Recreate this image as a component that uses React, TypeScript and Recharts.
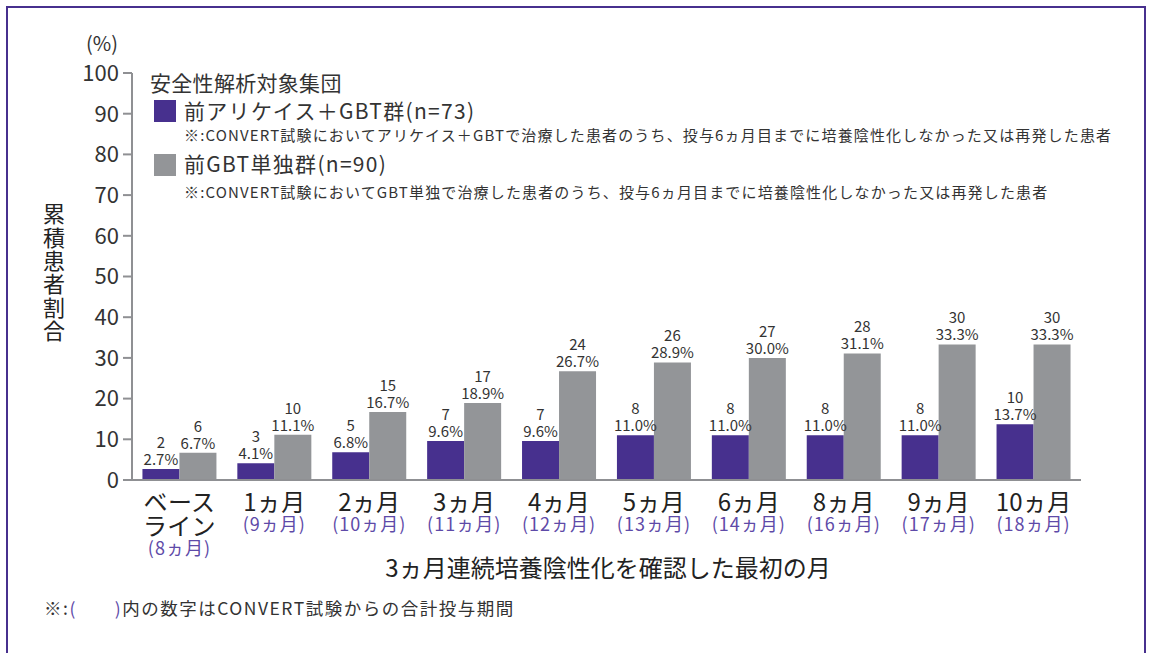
import React from 'react';
import { BarChart, Bar, XAxis, YAxis, LabelList } from 'recharts';

const categories = ['ベースライン', '1ヵ月', '2ヵ月', '3ヵ月', '4ヵ月', '5ヵ月', '6ヵ月', '8ヵ月', '9ヵ月', '10ヵ月'];
const subLabels = ['(8ヵ月)', '(9ヵ月)', '(10ヵ月)', '(11ヵ月)', '(12ヵ月)', '(13ヵ月)', '(14ヵ月)', '(16ヵ月)', '(17ヵ月)', '(18ヵ月)'];
const arikayceCount = [2, 3, 5, 7, 7, 8, 8, 8, 8, 10];
const arikaycePct = [2.7, 4.1, 6.8, 9.6, 9.6, 11.0, 11.0, 11.0, 11.0, 13.7];
const gbtCount = [6, 10, 15, 17, 24, 26, 27, 28, 30, 30];
const gbtPct = [6.7, 11.1, 16.7, 18.9, 26.7, 28.9, 30.0, 31.1, 33.3, 33.3];
const yTicks = [0, 10, 20, 30, 40, 50, 60, 70, 80, 90, 100];
const boundaryTicks = [0, 1, 2, 3, 4, 5, 6, 7, 8, 9, 10];

const seriesNames = ['前アリケイス＋GBT群(n=73)', '前GBT単独群(n=90)'];
const seriesNotes = [
  '※:CONVERT試験においてアリケイス＋GBTで治療した患者のうち、投与6ヵ月目までに培養陰性化しなかった又は再発した患者',
  '※:CONVERT試験においてGBT単独で治療した患者のうち、投与6ヵ月目までに培養陰性化しなかった又は再発した患者',
];
const legendTitle = '安全性解析対象集団';
const yTitle = '累積患者割合';
const xTitle = '3ヵ月連続培養陰性化を確認した最初の月';

const PURPLE = '#47308e';
const GRAY = '#939598';
const AXIS = '#8f9093';
const TEXT = '#333333';
const SUB = '#5e4aa8';
const FONT = '"Noto Sans CJK JP", "Noto Sans", sans-serif';

const data = categories.map((c, i) => ({
  cat: c,
  sub: subLabels[i],
  a: arikaycePct[i],
  aCount: arikayceCount[i],
  g: gbtPct[i],
  gCount: gbtCount[i],
}));

const makeBarLabel = (counts: number[], pcts: number[]) => (props: any) => {
  const { x, y, width, index } = props;
  const cx = Number(x) + Number(width) / 2;
  const top = Number(y);
  return (
    <g>
      <text x={cx} y={top - 21} textAnchor="middle" fontSize={15} fill={TEXT} fontFamily={FONT}>
        {counts[index]}
      </text>
      <text x={cx} y={top - 4} textAnchor="middle" fontSize={15} fill={TEXT} fontFamily={FONT}>
        {pcts[index].toFixed(1)}%
      </text>
    </g>
  );
};

const CatTick = (props: any) => {
  const { x, y, payload } = props;
  const i = payload.index;
  const label = categories[i];
  const mainStyle = { fontSize: 24, fill: '#222', fontFamily: FONT, letterSpacing: 0.3 } as any;
  const subStyle = { fontSize: 18, fill: SUB, fontFamily: FONT, letterSpacing: 1 } as any;
  if (i === 0) {
    return (
      <g>
        <text x={x} y={y + 31} textAnchor="middle" style={mainStyle}>ベース</text>
        <text x={x} y={y + 55} textAnchor="middle" style={mainStyle}>ライン</text>
        <text x={x} y={y + 75} textAnchor="middle" style={subStyle}>{subLabels[i]}</text>
      </g>
    );
  }
  return (
    <g>
      <text x={x} y={y + 31} textAnchor="middle" style={mainStyle}>{label}</text>
      <text x={x} y={y + 51} textAnchor="middle" style={subStyle}>{subLabels[i]}</text>
    </g>
  );
};

export default function App() {
  return (
    <div style={{ position: 'fixed', left: 0, top: 0, width: 1152, height: 653, overflow: 'hidden', background: '#fff', fontFamily: FONT, color: TEXT }}>
      <div style={{ position: 'absolute', left: 6, top: 6, width: 1140, height: 700, border: `2px solid ${PURPLE}`, boxSizing: 'border-box' }} />
      <div style={{ position: 'absolute', left: 0, top: 0 }}>
        <BarChart
          width={1152}
          height={653}
          data={data}
          margin={{ top: 73, right: 71, bottom: 0, left: 0 }}
          barCategoryGap="11%"
          barGap={0}
        >
          <XAxis
            xAxisId="ticks"
            type="number"
            domain={[0, 10]}
            ticks={boundaryTicks}
            allowDataOverflow
            height={0}
            tick={false}
            tickSize={8}
            tickLine={{ stroke: AXIS, strokeWidth: 2 }}
            axisLine={false}
          />
          <XAxis
            xAxisId="cat"
            dataKey="cat"
            height={173}
            axisLine={{ stroke: AXIS, strokeWidth: 2 }}
            tickLine={false}
            tickSize={0}
            tickMargin={0}
            interval={0}
            tick={<CatTick />}
          />
          <YAxis
            width={132}
            domain={[0, 100]}
            ticks={yTicks}
            interval={0}
            axisLine={{ stroke: AXIS, strokeWidth: 2 }}
            tickLine={{ stroke: AXIS, strokeWidth: 2 }}
            tickSize={9}
            tickMargin={4}
            tick={{ fontSize: 22, fill: TEXT, fontFamily: FONT }}
          />
          <Bar xAxisId="cat" dataKey="a" fill={PURPLE} isAnimationActive={false}>
            <LabelList dataKey="a" content={makeBarLabel(arikayceCount, arikaycePct)} />
          </Bar>
          <Bar xAxisId="cat" dataKey="g" fill={GRAY} isAnimationActive={false}>
            <LabelList dataKey="g" content={makeBarLabel(gbtCount, gbtPct)} />
          </Bar>
        </BarChart>
      </div>

      <div style={{ position: 'absolute', left: 86, top: 31, fontSize: 20, lineHeight: '24px' }}>(%)</div>
      <div style={{ position: 'absolute', left: 43, top: 203, fontSize: 22, lineHeight: '22px', writingMode: 'vertical-rl', textOrientation: 'upright', letterSpacing: 1.3, color: '#222' }}>{yTitle}</div>

      <div style={{ position: 'absolute', left: 150, top: 69, fontSize: 21, letterSpacing: 0.3, lineHeight: '26px', whiteSpace: 'nowrap' }}>{legendTitle}</div>
      <div style={{ position: 'absolute', left: 154, top: 100, width: 22, height: 22, background: PURPLE }} />
      <div style={{ position: 'absolute', left: 184, top: 96, fontSize: 21, letterSpacing: 1.3, lineHeight: '28px', whiteSpace: 'nowrap' }}>{seriesNames[0]}</div>
      <div style={{ position: 'absolute', left: 184, top: 124, fontSize: 15, letterSpacing: 1.15, lineHeight: '22px', whiteSpace: 'nowrap' }}>{seriesNotes[0]}</div>
      <div style={{ position: 'absolute', left: 154, top: 154, width: 22, height: 22, background: GRAY }} />
      <div style={{ position: 'absolute', left: 184, top: 149, fontSize: 21, letterSpacing: 1.3, lineHeight: '28px', whiteSpace: 'nowrap' }}>{seriesNames[1]}</div>
      <div style={{ position: 'absolute', left: 184, top: 181, fontSize: 15, letterSpacing: 1.15, lineHeight: '22px', whiteSpace: 'nowrap' }}>{seriesNotes[1]}</div>

      <div style={{ position: 'absolute', left: 0, width: 1216, top: 551, textAlign: 'center', fontSize: 24, lineHeight: '32px', color: '#222', whiteSpace: 'nowrap' }}>{xTitle}</div>
      <div style={{ position: 'absolute', left: 44, top: 596, fontSize: 17.5, letterSpacing: 1.5, lineHeight: '24px', whiteSpace: 'nowrap' }}>
        ※:<span style={{ color: SUB }}>(　　)</span>内の数字はCONVERT試験からの合計投与期間
      </div>
    </div>
  );
}
